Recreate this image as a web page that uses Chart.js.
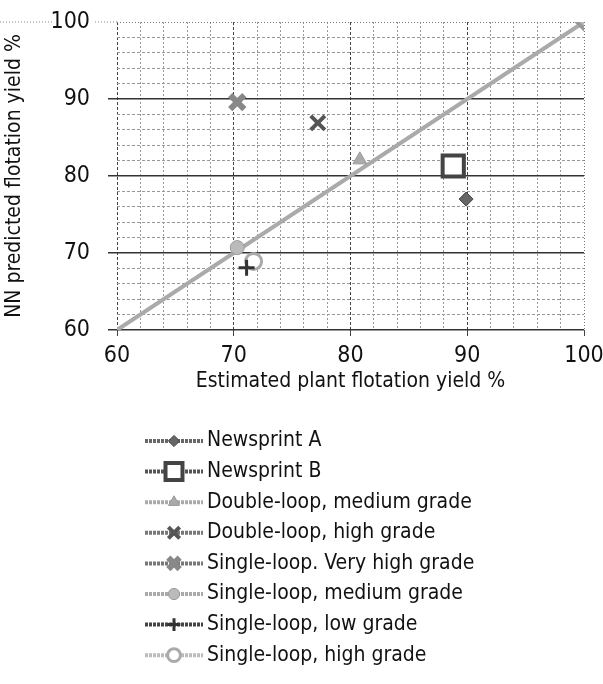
<!DOCTYPE html>
<html>
<head>
<meta charset="utf-8">
<script src="https://cdn.jsdelivr.net/npm/chart.js@4/dist/chart.umd.min.js"></script>
<style>
  html, body { margin: 0; padding: 0; background: #fff; }
  #chart { display: block; }
</style>
</head>
<body>
<canvas id="chart" width="603" height="684"></canvas>
<script>
// values
var seriesNames = [
	'Newsprint A',
	'Newsprint B',
	'Double-loop, medium grade',
	'Double-loop, high grade',
	'Single-loop. Very high grade',
	'Single-loop, medium grade',
	'Single-loop, low grade',
	'Single-loop, high grade'
];
var estimatedYield = [89.9, 88.8, 80.8, 77.2, 70.3, 70.3, 71.1, 71.7];
var predictedYield = [77.0, 81.3, 82.1, 86.9, 89.6, 70.7, 68.1, 68.9];
var diagonalX = [60, 100];
var diagonalY = [60, 100];
var axisMin = 60;
var axisMax = 100;
var xTitle = 'Estimated plant flotation yield %';
var yTitle = 'NN predicted flotation yield %';

var fontFamily = "'DejaVu Sans Condensed', 'Liberation Sans Narrow', 'Liberation Sans', Arial, sans-serif";

// marker look per series
var markers = [
	{ style: 'rectRot', radius: 7, fill: '#666', stroke: '#444', width: 1 },
	{ style: 'rect', radius: 15, fill: '#fff', stroke: '#444', width: 4 },
	{ style: 'triangle', radius: 8, fill: '#aaa', stroke: '#999', width: 1 },
	{ style: 'crossRot', radius: 10, fill: '#555', stroke: '#555', width: 4 },
	{ style: 'crossRot', radius: 10, fill: '#888', stroke: '#888', width: 6 },
	{ style: 'circle', radius: 7, fill: '#bbb', stroke: '#999', width: 1 },
	{ style: 'cross', radius: 8, fill: '#333', stroke: '#333', width: 3 },
	{ style: 'circle', radius: 8, fill: '#fff', stroke: '#aaa', width: 3 }
];
var legendLine = ['#666', '#555', '#aaa', '#777', '#777', '#aaa', '#444', '#bbb'];

var datasets = [];
datasets.push({
	type: 'line',
	label: '1:1',
	data: diagonalX.map(function(x, i){ return { x: x, y: diagonalY[i] }; }),
	borderColor: '#aaa',
	borderWidth: 4,
	pointStyle: 'rectRot',
	pointRadius: [0, 7],
	pointBackgroundColor: '#bbb',
	pointBorderColor: '#999',
	order: 10
});
for (var i = 0; i < seriesNames.length; i++) {
	var m = markers[i];
	datasets.push({
		type: 'scatter',
		label: seriesNames[i],
		data: [{ x: estimatedYield[i], y: predictedYield[i] }],
		showLine: false,
		pointStyle: m.style,
		pointRadius: m.radius,
		pointHoverRadius: m.radius,
		pointBackgroundColor: m.fill,
		pointBorderColor: m.stroke,
		pointBorderWidth: m.width,
		order: 1
	});
}

function isMajor(ctx) {
	return ctx.tick && ctx.tick.value % 10 === 0;
}
function isTop(ctx) {
	return ctx.tick && ctx.tick.value === axisMax;
}

var extras = {
	id: 'extras',
	beforeDraw: function(chart) {
		// dotted line at the top running off to the left
		var c = chart.ctx;
		var y = chart.scales.y.getPixelForValue(axisMax);
		c.save();
		c.strokeStyle = '#888';
		c.lineWidth = 1;
		c.setLineDash([1, 2]);
		c.beginPath();
		c.moveTo(0, y); c.lineTo(54, y);
		c.moveTo(95, y); c.lineTo(chart.chartArea.left, y);
		c.stroke();
		c.restore();
	},
	afterDraw: function(chart) {
		var c = chart.ctx;
		var x0 = 145, x1 = 203, mx = 174, tx = 207;
		var y0 = 441, step = 30.6;
		c.save();
		c.font = '21px ' + fontFamily;
		c.textBaseline = 'middle';
		c.fillStyle = '#111';
		for (var i = 0; i < seriesNames.length; i++) {
			var y = y0 + i * step;
			var m = markers[i];
			c.save();
			c.strokeStyle = legendLine[i];
			c.lineWidth = 4;
			c.setLineDash([3, 1]);
			c.beginPath();
			c.moveTo(x0, y); c.lineTo(x1, y);
			c.stroke();
			c.restore();
			c.save();
			c.fillStyle = m.fill;
			c.strokeStyle = m.stroke;
			c.lineWidth = m.width;
			Chart.helpers.drawPoint(c, { pointStyle: m.style, radius: m.radius * 0.8, rotation: 0, borderWidth: m.width }, mx, y);
			c.restore();
			c.fillText(seriesNames[i], tx, y);
		}
		c.restore();
	}
};

var ctx = document.getElementById('chart');
var chart = new Chart(ctx, {
	data: { datasets: datasets },
	options: {
		responsive: false,
		animation: false,
		layout: { padding: { left: 0, right: 19, top: 22, bottom: 290 } },
		plugins: {
			legend: { display: false },
			tooltip: { enabled: false }
		},
		scales: {
			x: {
				type: 'linear',
				min: axisMin,
				max: axisMax,
				afterFit: function(scale){
					scale.height = 64;
					scale.paddingLeft = 0;
					scale.paddingRight = 0;
				},
				ticks: {
					stepSize: 2,
					autoSkip: false,
					maxRotation: 0,
					padding: 6,
					color: '#111',
					font: { family: fontFamily, size: 23 },
					callback: function(v){ return v % 10 === 0 ? v : ''; }
				},
				grid: {
					color: function(c){ return isTop(c) ? '#777' : (isMajor(c) ? '#444' : '#999'); },
					lineWidth: 1,
					tickLength: 6,
					tickColor: function(c){ return isMajor(c) ? '#444' : 'rgba(0,0,0,0)'; }
				},
				border: {
					display: false,
					dash: function(c){ return isTop(c) ? [1, 2] : (isMajor(c) ? [3, 2] : [2, 2]); }
				},
				title: {
					display: true,
					text: xTitle,
					color: '#111',
					font: { family: fontFamily, size: 21 },
					padding: { top: 0, bottom: 0 }
				}
			},
			y: {
				type: 'linear',
				min: axisMin,
				max: axisMax,
				afterFit: function(scale){
					scale.width = 117;
					scale.paddingTop = 0;
					scale.paddingBottom = 0;
				},
				ticks: {
					stepSize: 2,
					autoSkip: false,
					padding: 18,
					color: '#111',
					font: { family: fontFamily, size: 23 },
					callback: function(v){ return v % 10 === 0 ? v : ''; }
				},
				grid: {
					color: function(c){ return isTop(c) ? '#777' : (isMajor(c) ? '#333' : '#999'); },
					lineWidth: function(c){ return isMajor(c) && !isTop(c) ? 1.5 : 1; },
					tickLength: 9,
					tickColor: function(c){ return isMajor(c) && !isTop(c) ? '#333' : 'rgba(0,0,0,0)'; }
				},
				border: {
					display: false,
					dash: function(c){ return isTop(c) ? [1, 2] : (isMajor(c) ? [] : [3, 2]); }
				},
				title: {
					display: true,
					text: yTitle,
					color: '#111',
					font: { family: fontFamily, size: 21 },
					padding: { top: 2, bottom: 0 }
				}
			}
		}
	},
	plugins: [extras]
});
</script>
</body>
</html>
